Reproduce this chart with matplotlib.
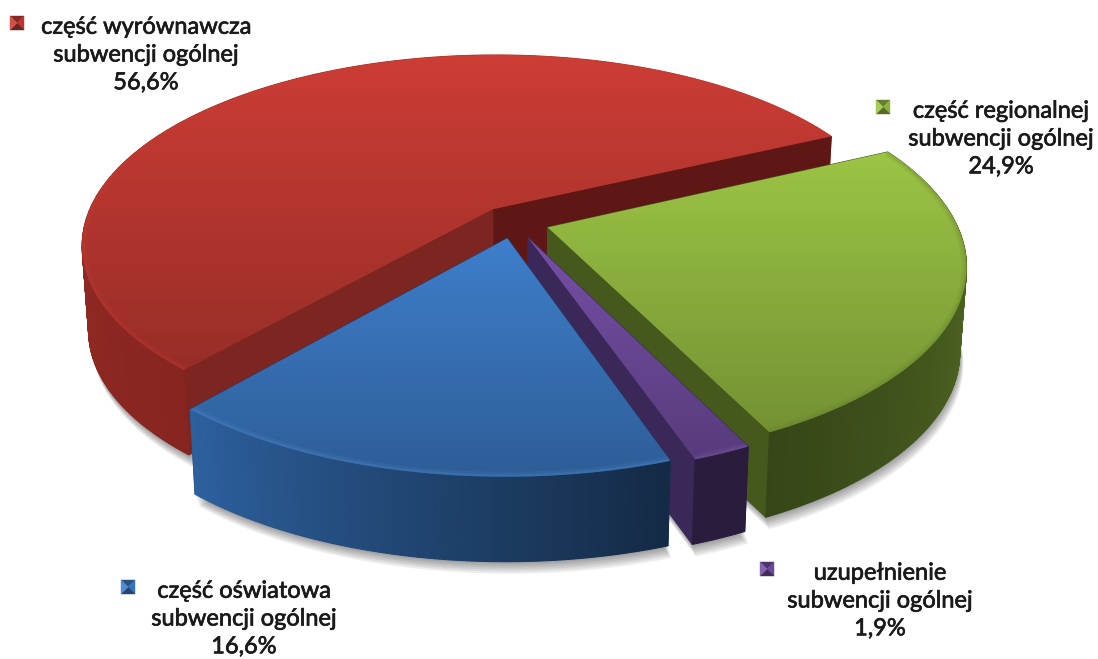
import numpy as np
import matplotlib
matplotlib.use('Agg')
import matplotlib.pyplot as plt
import matplotlib.patheffects as pe
from matplotlib.patches import Polygon
from matplotlib.colors import to_rgb

plt.rcParams['font.family'] = ['Lato', 'DejaVu Sans']

labels = ['część wyrównawcza\nsubwencji ogólnej\n56,6%',
          'część regionalnej\nsubwencji ogólnej\n24,9%',
          'uzupełnienie\nsubwencji ogólnej\n1,9%',
          'część oświatowa\nsubwencji ogólnej\n16,6%']
shares = [56.6, 24.9, 1.9, 16.6]
tops = ['#cc3d35', '#9cc445', '#7650a6', '#3e7ecb']
wall_start = ['#c03a32', '#5e7a28', '#2a1c3c', '#142a45']
wall_end = ['#862520', '#364618', '#2a1c3c', '#2d619f']
cut_start = ['#5f1715', '#46591d', '#3a2858', '#1d3f6c']
cut_end = ['#7d2521', '#46591d', '#3a2858', '#1d3f6c']
rims = ['#cc3d35', '#5e7a28', '#8a66ba', '#5a96dc']

# picture geometry of the tilted pie
CX, CY = 514, 222
R = 408
TILT = 0.459
PERSP = 0.186
DEPTH = 85
EXPLODE = 0.087
START = 25.5


def project(u, v):
    p = 1 / (1 + PERSP * v)
    return CX + R * u * p, CY - R * TILT * v * p


def lower(x):
    # bottom edges lean slightly inwards
    return CX + (x - CX) * 0.985


def lerp(c0, c1, f):
    c0, c1 = np.array(to_rgb(c0)), np.array(to_rgb(c1))
    return tuple(c0 + (c1 - c0) * f)


fig = plt.figure(figsize=(10.98, 6.59), dpi=100)
ax = fig.add_axes([0, 0, 1, 1])


def wedge_points(a0, a1):
    mid = np.radians((a0 + a1) / 2)
    ou, ov = EXPLODE * np.cos(mid), EXPLODE * np.sin(mid)
    t = np.radians(np.linspace(a0, a1, max(int(abs(a1 - a0)), 6) * 2))
    u = np.r_[ou, ou + np.cos(t)]
    v = np.r_[ov, ov + np.sin(t)]
    return u, v, t


def draw_wall(x0, y0, x1, y1, color, z):
    ax.add_patch(Polygon([(x0, y0), (x1, y1), (lower(x1), y1 + DEPTH), (lower(x0), y0 + DEPTH)],
                         closed=True, fc=color, ec=color, lw=0.8, zorder=z))


def draw_shadow(a0, a1):
    u, v, t = wedge_points(a0, a1)
    x, y = project(u, v)
    for off in (12, 10, 8, 6, 4, 2):
        ax.add_patch(Polygon(np.c_[lower(x) + off * 0.3, y + DEPTH + off], closed=True,
                             fc='black', alpha=0.07, ec='none', zorder=0.5))


def draw_slice(a0, a1, i, z):
    u, v, t = wedge_points(a0, a1)
    x, y = project(u, v)
    n = len(x) - 2
    order = np.argsort(-(v[1:-1] + v[2:]))

    # back of the outer wall goes first, then the cuts, then the front
    for j in order:
        if np.sin(t[j]) > 0:
            draw_wall(x[j + 1], y[j + 1], x[j + 2], y[j + 2], lerp(wall_start[i], wall_end[i], j / n), z)
    draw_wall(x[0], y[0], x[1], y[1], cut_start[i], z + 0.05)
    draw_wall(x[0], y[0], x[-1], y[-1], cut_end[i], z + 0.05)
    for j in order:
        if np.sin(t[j]) <= 0:
            draw_wall(x[j + 1], y[j + 1], x[j + 2], y[j + 2], lerp(wall_start[i], wall_end[i], j / n), z + 0.1)

    # top face with a gradient clipped to the slice
    poly = Polygon(np.c_[x, y], closed=True, fc=tops[i], ec='none', zorder=z + 0.2)
    ax.add_patch(poly)
    g = np.linspace(0, 1, 256)
    rgba = np.zeros((256, 1, 4))
    rgba[:, 0, 3] = 0.26 * g
    im = ax.imshow(rgba, extent=(x.min(), x.max(), y.max(), y.min()), aspect='auto',
                   zorder=z + 0.3, interpolation='bilinear')
    im.set_clip_path(poly)

    # soft rim along the arc, inside the slice only
    for lw, a in ((7, 0.12), (3.5, 0.2)):
        rim, = ax.plot(x[1:], y[1:], color=rims[i], lw=lw, alpha=a, zorder=z + 0.4, solid_capstyle='butt')
        rim.set_clip_path(poly)


# red goes the long way round, the others run clockwise from its start
angles = np.r_[START, START - np.cumsum(shares[1:]) * 3.6]
spans = [(START, START + shares[0] * 3.6), (angles[0], angles[1]), (angles[1], angles[2]), (angles[2], angles[3])]

for a0, a1 in spans:
    draw_shadow(a0, a1)
for i, (a0, a1) in enumerate(spans):
    draw_slice(a0, a1, i, 2 + i)
ax.set_xlim(0, 1098)
ax.set_ylim(659, 0)
ax.axis('off')

# labels
label_x = [146, 1001, 880, 244]
label_y = [55, 139, 601, 619]
key_x = [17, 883, 767, 128]
key_y = [23, 107, 569, 587]
for i, lab in enumerate(labels):
    ax.text(label_x[i], label_y[i], lab, ha='center', va='center', fontsize=17,
            color='#1a1a1a', linespacing=1.4, zorder=10,
            path_effects=[pe.withStroke(linewidth=0.5, foreground='#1a1a1a')])
    kx, ky, s = key_x[i], key_y[i], 7
    corners = [(kx - s, ky - s), (kx + s, ky - s), (kx + s, ky + s), (kx - s, ky + s)]
    shade = [lerp(tops[i], 'black', 0.35), lerp(tops[i], 'black', 0.1),
             lerp(tops[i], 'black', 0.45), lerp(tops[i], 'white', 0.1)]
    for c in range(4):
        ax.add_patch(Polygon([corners[c], corners[(c + 1) % 4], (kx, ky)], closed=True,
                             fc=shade[c], ec=shade[c], lw=0.3, zorder=10))

fig.savefig('out.png', dpi=100, facecolor='white')
